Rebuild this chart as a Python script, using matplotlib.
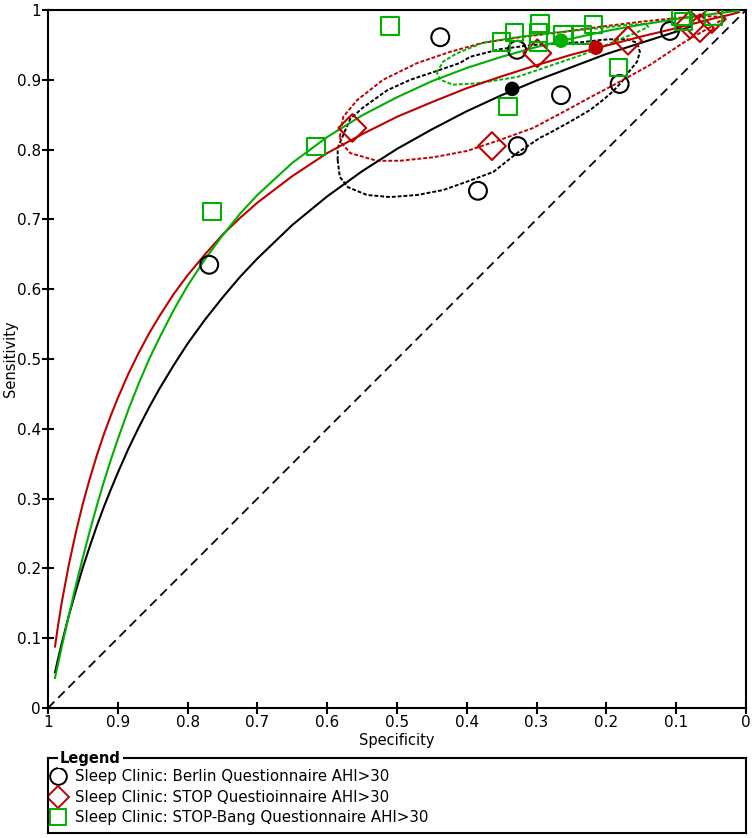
import numpy as np
import matplotlib.pyplot as plt

# colours
BLACK = '#000000'
RED = '#C00000'
GREEN = '#00B000'

# study points (specificity, sensitivity)
berlin_spec = [0.769, 0.438, 0.328, 0.265, 0.327, 0.384, 0.181, 0.109]
berlin_sens = [0.635, 0.961, 0.943, 0.878, 0.805, 0.741, 0.894, 0.970]
stop_spec = [0.564, 0.364, 0.299, 0.169, 0.080, 0.066, 0.049]
stop_sens = [0.831, 0.805, 0.938, 0.956, 0.979, 0.974, 0.987]
bang_spec = [0.765, 0.616, 0.510, 0.341, 0.350, 0.332, 0.295, 0.297, 0.297,
             0.262, 0.235, 0.218, 0.183, 0.093, 0.090, 0.047]
bang_sens = [0.711, 0.804, 0.977, 0.862, 0.954, 0.968, 0.981, 0.967, 0.954,
             0.964, 0.964, 0.979, 0.918, 0.991, 0.984, 0.991]

# summary points
summary_spec = [0.335, 0.215, 0.265]
summary_sens = [0.887, 0.946, 0.956]

# SROC curves
curve_spec = [0.99, 0.985, 0.98, 0.97, 0.96, 0.95, 0.94, 0.93, 0.92, 0.91,
              0.90, 0.885, 0.87, 0.855, 0.84, 0.82, 0.80, 0.775, 0.75, 0.725,
              0.70, 0.65, 0.60, 0.55, 0.50, 0.45, 0.40, 0.35, 0.30, 0.25,
              0.20, 0.15, 0.10, 0.08]
berlin_curve = [0.051, 0.073, 0.094, 0.133, 0.168, 0.2015, 0.232, 0.261, 0.288,
                0.313, 0.337, 0.371, 0.402, 0.431, 0.458, 0.491, 0.522, 0.5565,
                0.588, 0.6175, 0.644, 0.692, 0.733, 0.769, 0.801, 0.829, 0.855,
                0.878, 0.899, 0.918, 0.937, 0.953, 0.969, 0.976]
curve_spec_long = curve_spec[:-1] + [0.05, 0.02, 0.01]
stop_curve = [0.088, 0.122, 0.153, 0.206, 0.252, 0.293, 0.329, 0.362, 0.392,
              0.419, 0.444, 0.4785, 0.509, 0.537, 0.562, 0.593, 0.620, 0.650,
              0.678, 0.702, 0.724, 0.762, 0.795, 0.822, 0.847, 0.868, 0.888,
              0.905, 0.921, 0.936, 0.949, 0.962, 0.974, 0.987, 0.994, 0.997]
bang_curve = [0.043, 0.066, 0.089, 0.133, 0.176, 0.216, 0.254, 0.290, 0.324,
              0.3555, 0.385, 0.427, 0.465, 0.500, 0.531, 0.570, 0.605, 0.643,
              0.677, 0.708, 0.735, 0.781, 0.818, 0.849, 0.875, 0.898, 0.917,
              0.933, 0.947, 0.959, 0.970, 0.979, 0.987, 0.994, 0.998, 0.999]

# 95% confidence regions
berlin_ci_spec = [0.585, 0.585, 0.577, 0.567, 0.549, 0.514, 0.481, 0.448, 0.410,
                  0.395, 0.352, 0.305, 0.234, 0.209, 0.195, 0.170, 0.156, 0.152,
                  0.156, 0.169, 0.178, 0.191, 0.205, 0.223, 0.252, 0.281, 0.295,
                  0.328, 0.362, 0.400, 0.434, 0.471, 0.510, 0.543, 0.570, 0.582,
                  0.585]
berlin_ci_sens = [0.785, 0.802, 0.821, 0.844, 0.860, 0.885, 0.900, 0.911, 0.924,
                  0.933, 0.944, 0.950, 0.954, 0.957, 0.958, 0.958, 0.953, 0.940,
                  0.926, 0.910, 0.897, 0.883, 0.871, 0.857, 0.840, 0.824, 0.817,
                  0.795, 0.768, 0.754, 0.742, 0.735, 0.732, 0.735, 0.746, 0.761,
                  0.785]
stop_ci_spec = [0.582, 0.577, 0.557, 0.520, 0.471, 0.424, 0.377, 0.324, 0.266,
                0.209, 0.152, 0.095, 0.052, 0.030, 0.043, 0.066, 0.090, 0.138,
                0.185, 0.223, 0.256, 0.305, 0.352, 0.400, 0.448, 0.496, 0.529,
                0.567, 0.579, 0.582]
stop_ci_sens = [0.818, 0.847, 0.871, 0.900, 0.924, 0.940, 0.953, 0.961, 0.968,
                0.976, 0.983, 0.989, 0.991, 0.990, 0.980, 0.967, 0.953, 0.921,
                0.895, 0.875, 0.857, 0.831, 0.814, 0.798, 0.789, 0.784, 0.784,
                0.795, 0.809, 0.818]
bang_ci_spec = [0.443, 0.434, 0.414, 0.377, 0.328, 0.281, 0.209, 0.166, 0.145,
                0.140, 0.156, 0.181, 0.209, 0.234, 0.281, 0.328, 0.385, 0.420,
                0.438, 0.443]
bang_ci_sens = [0.910, 0.926, 0.938, 0.953, 0.961, 0.967, 0.974, 0.979, 0.980,
                0.976, 0.968, 0.958, 0.946, 0.936, 0.920, 0.904, 0.895, 0.893,
                0.900, 0.910]

legend_labels = ['Sleep Clinic: Berlin Questionnaire AHI>30',
                 'Sleep Clinic: STOP Questioinnaire AHI>30',
                 'Sleep Clinic: STOP-Bang Questionnaire AHI>30']

fig = plt.figure(figsize=(7.52, 8.38), dpi=100)
ax = fig.add_axes([48/752, 130/838, 698/752, 698/838])

# chance line
ax.plot([1, 0], [0, 1], color=BLACK, lw=1.3, ls=(0, (5, 3)), zorder=1)

dots = (0, (2, 1))
for xs, ys, c in [(berlin_ci_spec, berlin_ci_sens, BLACK),
                  (stop_ci_spec, stop_ci_sens, RED),
                  (bang_ci_spec, bang_ci_sens, GREEN)]:
    ax.plot(xs, ys, color=c, lw=1.4, ls=dots, zorder=2,
            dash_joinstyle='round', dash_capstyle='butt')

for xs, ys, c in [(curve_spec, berlin_curve, BLACK),
                  (curve_spec_long, stop_curve, RED),
                  (curve_spec_long, bang_curve, GREEN)]:
    ax.plot(xs, ys, color=c, lw=1.5, zorder=3, solid_joinstyle='round')

ax.scatter(berlin_spec, berlin_sens, s=165, marker='o', facecolors='none',
           edgecolors=BLACK, linewidths=1.5, zorder=4)
ax.scatter(stop_spec, stop_sens, s=200, marker='D', facecolors='none',
           edgecolors=RED, linewidths=1.5, zorder=4)
ax.scatter(bang_spec, bang_sens, s=155, marker='s', facecolors='none',
           edgecolors=GREEN, linewidths=1.5, zorder=4)

ax.scatter(summary_spec, summary_sens, s=110, c=[BLACK, RED, GREEN],
           edgecolors='none', zorder=5)

ticks = np.round(np.arange(0, 1.01, 0.1), 1)
tick_labels = ['0' if t == 0 else '1' if t == 1 else f'{t:.1f}' for t in ticks]
ax.set_xlim(1, 0)
ax.set_ylim(0, 1)
ax.set_xticks(ticks)
ax.set_xticklabels(tick_labels)
ax.set_yticks(ticks)
ax.set_yticklabels(tick_labels)
ax.tick_params(direction='inout', length=8, width=1.5, labelsize=11, pad=1)
for sp in ax.spines.values():
    sp.set_linewidth(1.5)
ax.set_xlabel('Specificity', fontsize=10.5, labelpad=2)
ax.set_ylabel('Sensitivity', fontsize=10.5)
ax.yaxis.set_label_coords(-0.043, 0.5)

# legend box
lg = fig.add_axes([48/752, 5/838, 698/752, 75/838])
lg.set_xlim(0, 698)
lg.set_ylim(75, 0)
lg.set_xticks([])
lg.set_yticks([])
for sp in lg.spines.values():
    sp.set_linewidth(1.5)
lg.text(12, 0, 'Legend', fontsize=10.5, fontweight='bold', va='center',
        ha='left', bbox=dict(facecolor='white', edgecolor='none', pad=1.5))
rows = [18, 39, 59]
lg.plot([10], [rows[0]], marker='o', ms=12, mfc='none', mec=BLACK, mew=1.4)
lg.plot([10], [rows[1]], marker='D', ms=11, mfc='none', mec=RED, mew=1.4)
lg.plot([10], [rows[2]], marker='s', ms=11, mfc='none', mec=GREEN, mew=1.4)
for y, lab in zip(rows, legend_labels):
    lg.text(27, y, lab, fontsize=10.8, va='center', ha='left')

fig.savefig('out.png', dpi=100)
